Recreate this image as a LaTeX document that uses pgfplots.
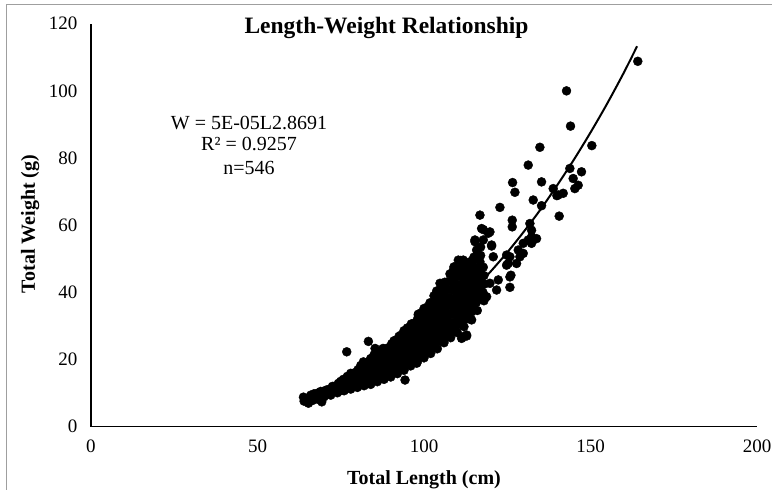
\documentclass[border=0pt]{standalone}
\usepackage{pgfplots}
\pgfplotsset{compat=1.18}
\usepackage{fontspec}
\setmainfont{Liberation Serif}
\begin{document}
\begin{tikzpicture}
\useasboundingbox (0,0) rectangle (772pt,490pt);
\draw[gray!75, line width=0.9pt] (6.7pt,0) -- (6.7pt,486pt) -- (772pt,486pt);
\begin{axis}[
  at={(91pt,63.3pt)}, anchor=south west,
  scale only axis, width=666pt, height=403pt,
  xmin=0, xmax=200, ymin=0, ymax=120,
  axis x line*=bottom, axis y line*=left,
  axis line style={-, line width=1.2pt, black},
  xtick={0,50,...,200}, ytick={0,20,...,120},
  major tick length=0pt,
  /pgf/number format/assume math mode=true,
  tick label style={font=\fontsize{19}{21}\selectfont},
  xticklabel style={yshift=-10pt},
  yticklabel style={xshift=-10pt},
  clip=false,
]
% measured fish
\addplot[only marks, mark=*, mark size=4.5pt, mark options={fill=black, draw=black, line width=0.4pt}] coordinates {
(64,7.6) (63.8,8.8) (65.3,7.0) (66,9.4) (66.5,7.8) (68,8.2) (68.3,10.1) (69.3,7.4)
(70,8.9) (70.4,10.8) (72,9.4) (71.6,11.1) (72.5,12.0) (74,10.1) (73.7,11.7) (74.3,12.9)
(76,10.7) (76.2,12.5) (75.8,14.1) (78,11.2) (77.6,13.0) (78.3,14.6) (78,15.9)
(80,11.7) (80.3,13.4) (79.7,15.2) (80.2,17.0)
(82,12.2) (81.7,14.0) (82.3,15.9) (82,17.6) (81.8,19.3)
(84,12.6) (84.2,14.5) (83.8,16.4) (84.3,18.3) (84,20.3)
(86,13.4) (85.7,15.3) (86.3,17.2) (86,19.1) (85.8,21.0) (86.3,22.4)
(88,14.1) (88.3,16.0) (87.8,18.0) (88.2,20.0) (88,22.0) (87.7,23.3)
(90,14.8) (89.7,16.8) (90.3,18.8) (90,20.8) (89.8,22.8) (90.3,24.7)
(92,15.8) (92.3,17.8) (91.7,19.8) (92.2,21.8) (92,23.8) (91.8,25.8) (92.5,26.9)
(94,16.8) (93.7,18.8) (94.2,20.8) (94,22.8) (93.8,24.8) (94.3,26.8) (94,28.6)
(96,18.1) (96.3,20.1) (95.7,22.2) (96.2,24.3) (96,26.4) (95.8,28.5) (96.2,30.6)
(98,19.3) (97.7,21.4) (98.3,23.5) (98,25.6) (97.8,27.7) (98.2,29.8) (98,31.9) (98.3,33.3)
(100,20.5) (100.3,22.6) (99.7,24.7) (100.2,26.8) (100,28.9) (99.8,31.0) (100.3,33.1) (100,35.2)
(102,21.8) (101.7,24.0) (102.3,26.2) (102,28.4) (101.8,30.6) (102.2,32.8) (102,35.0) (101.8,36.9)
(104,23.2) (104.3,25.4) (103.7,27.6) (104.2,29.8) (104,32.0) (103.8,34.2) (104.3,36.4) (104,38.6) (103.8,40.4) (104.8,42.7)
(106,25.0) (105.7,27.3) (106.3,29.6) (106,31.9) (105.8,34.2) (106.2,36.5) (106,38.8) (105.8,41.1) (106.2,43.0)
(108,26.5) (108.3,28.8) (107.7,31.2) (108.2,33.6) (108,36.0) (107.8,38.4) (108.3,40.8) (108,43.2) (107.8,45.5) (108.8,46.6)
(110,28.0) (109.7,30.2) (110.3,32.6) (110,35.0) (109.8,37.4) (110.2,39.8) (110,42.2) (109.8,44.6) (110.3,47.0) (110.3,49.6)
(111.8,26.8) (112.8,27.3) (112,29.8) (112.3,32.0) (111.7,34.4) (112.2,36.8) (112,39.2) (111.8,41.6) (112.2,44.0) (111.8,46.1) (112,48.4)
(114,32.0) (114.3,34.2) (113.7,36.6) (114.2,39.0) (114,41.4) (113.8,43.8) (114.3,46.2) (113.8,49.1) (114.8,49.6)
(116,34.6) (115.7,37.0) (116.2,39.5) (116,42.0) (115.8,44.5) (116.2,47.0) (116.8,49.1) (115.8,52.6) (115.3,55.1)
(118,37.5) (117.7,40.0) (118.2,42.5) (118,45.0) (117.8,47.5) (117.8,55.6) (118.8,38.7) (119.8,42.7)
(120.3,54.1) (119.3,57.6) (117.3,59.0) (116.8,63.0) (120.8,50.6) (121.8,40.7) (122.3,43.7)
(117.8,58.7) (119.8,58.0) (115.3,55.6) (120.3,53.8) (111.8,49.6) (114.8,49.6)
(124.8,51.1) (125.3,48.6) (128.3,52.6) (129.8,54.6) (128.8,50.6) (125.8,44.6) (125.8,41.5) (126.1,45.1)
(127.8,48.6) (129.8,51.6) (132.3,54.6) (133.8,56.0) (124.8,48.1) (125.8,50.6)
(122.8,65.3) (126.6,72.7) (127.3,69.8) (131.3,77.9) (134.8,83.2) (135.3,72.9) (132.8,67.5) (135.3,65.8)
(126.5,61.5) (126.5,59.5) (131.8,60.5) (132.3,58.5) (132.3,56.5) (131.3,55.6)
(138.8,70.9) (140.3,69.0) (141.8,69.5) (139.9,68.8) (143.8,76.9) (147.3,75.9) (144.8,73.9) (145.3,70.9) (146.3,71.9)
(140.6,62.7) (142.8,100.0) (144.0,89.5) (150.4,83.7) (164.2,108.8)
(76.8,22.3) (83.3,25.4) (85.3,23.3) (86.3,21.8) (94.3,13.9) (97.8,18.9) (98.3,33.5)
(111.3,26.3) (112.8,27.0) (114.3,31.8)
(65,8.4) (67,8.8) (67,9.8) (69,9.2) (69,10.5) (71,9.8) (71,11.0) (73,10.5) (73,12.0)
(75,10.8) (75,12.2) (75,13.5) (77,11.8) (77,13.7) (77,15.0) (79,12.3) (79,14.2) (79,16.0)
(81,12.8) (81,14.8) (81,16.6) (81,18.2) (83,13.3) (83,15.3) (83,17.2) (83,19.2)
(85,13.8) (85,15.8) (85,17.8) (85,19.8) (85,21.4) (87,14.6) (87,16.6) (87,18.6) (87,20.6) (87,22.6)
(89,15.4) (89,17.4) (89,19.4) (89,21.4) (89,23.4) (91,16.2) (91,18.2) (91,20.2) (91,22.2) (91,24.2) (91,25.6)
(93,17.2) (93,19.2) (93,21.2) (93,23.2) (93,25.2) (93,27.2)
(95,18.4) (95,20.6) (95,22.8) (95,25.0) (95,27.2) (95,29.4)
(97,19.8) (97,22.0) (97,24.2) (97,26.4) (97,28.6) (97,30.8)
(99,21.0) (99,23.2) (99,25.4) (99,27.6) (99,29.8) (99,32.0) (99,33.8)
(101,22.4) (101,24.6) (101,26.8) (101,29.0) (101,31.2) (101,33.4) (101,35.6)
(103,23.8) (103,26.0) (103,28.2) (103,30.4) (103,32.6) (103,34.8) (103,37.0) (103,39.0)
(105,25.6) (105,27.8) (105,30.0) (105,32.2) (105,34.4) (105,36.6) (105,38.8) (105,41.0)
(107,27.0) (107,29.3) (107,31.6) (107,33.9) (107,36.2) (107,38.5) (107,40.8) (107,43.1)
(109,28.6) (109,31.0) (109,33.4) (109,35.8) (109,38.2) (109,40.6) (109,43.0) (109,45.4) (109,47.6)
(111,30.4) (111,32.8) (111,35.2) (111,37.6) (111,40.0) (111,42.4) (111,44.8) (111,47.2) (111,49.5)
(113,32.8) (113,35.2) (113,37.6) (113,40.0) (113,42.4) (113,44.8) (113,47.2)
(115,35.4) (115,37.8) (115,40.2) (115,42.6) (115,45.0) (115,47.4) (115,50.5)
(117,38.2) (117,40.7) (117,43.2) (117,45.7) (117,51.0) (117,53.5)
};
% power trend line
\addplot[no marks, black, line width=2pt, smooth] coordinates {
(63,7.27) (65,7.95) (70,9.83) (75,11.98) (80,14.42) (85,17.2) (90,20.2) (95,23.6)
(100,27.4) (105,31.5) (110,36.0) (115,40.9) (120,46.2) (125,51.9) (130,58.1) (135,64.7)
(140,71.9) (145,79.5) (150,87.6) (155,96.2) (160,105.4) (164,113.3)
};
\end{axis}
\node[anchor=base, font=\bfseries\fontsize{23.5}{26}\selectfont] at (386.5pt,456.7pt) {Length-Weight Relationship};
\node[anchor=base, font=\bfseries\fontsize{20}{22}\selectfont] at (424pt,5pt) {Total Length (cm)};
\node[anchor=base, rotate=90, font=\bfseries\fontsize{20}{22}\selectfont] at (35pt,266pt) {Total Weight (g)};
\node[anchor=base, font=\fontsize{20}{22}\selectfont] at (249pt,360pt) {W = 5E-05L2.8691};
\node[anchor=base, font=\fontsize{20}{22}\selectfont] at (249pt,339.3pt) {R² = 0.9257};
\node[anchor=base, font=\fontsize{20}{22}\selectfont] at (249pt,315pt) {n=546};
\end{tikzpicture}
\end{document}
